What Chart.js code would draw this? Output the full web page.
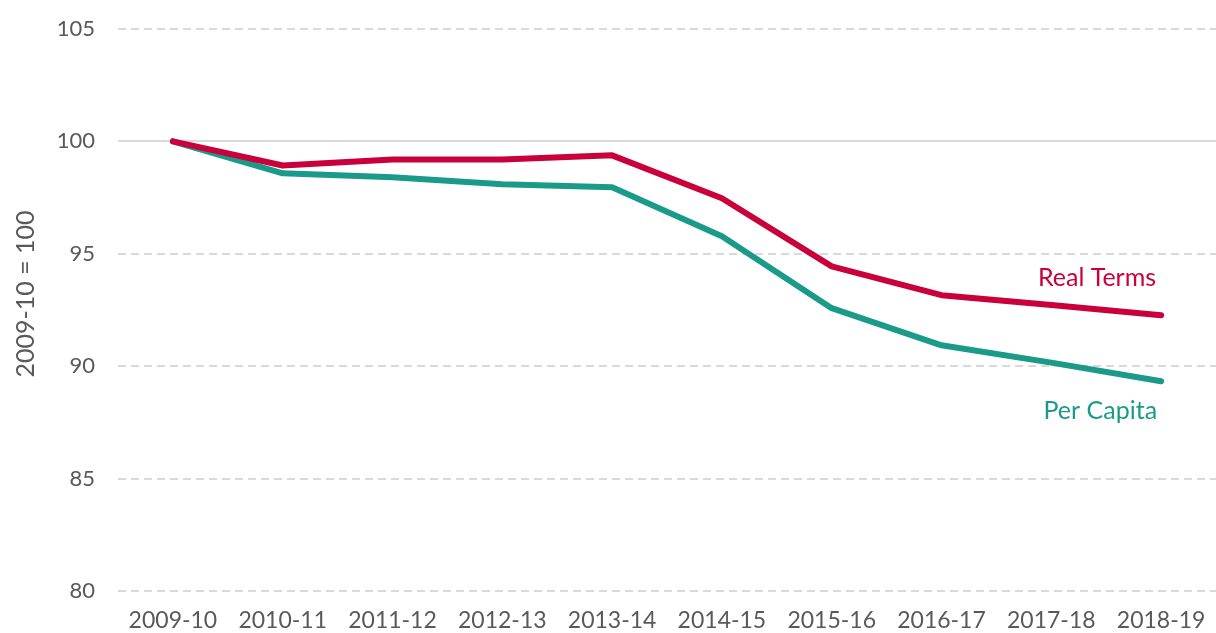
<!DOCTYPE html>
<html>
<head>
<meta charset="utf-8">
<script src="https://cdn.jsdelivr.net/npm/chart.js@4"></script>
<style>
  html, body { margin: 0; padding: 0; background: #fff; }
  #wrap { width: 1216px; height: 633px; }
</style>
</head>
<body>
<div id="wrap"><canvas id="chart"></canvas></div>
<script>
const years = ['2009-10', '2010-11', '2011-12', '2012-13', '2013-14', '2014-15', '2015-16', '2016-17', '2017-18', '2018-19'];
const realTerms = [100, 98.93, 99.2, 99.2, 99.38, 97.47, 94.44, 93.16, 92.72, 92.27];
const perCapita = [100, 98.58, 98.4, 98.09, 97.96, 95.78, 92.58, 90.93, 90.16, 89.33];
const yTicks = [80, 85, 90, 95, 100, 105];
const yTitle = '2009-10 = 100';

const FONT = 'Lato, "Noto Sans", sans-serif';
const GREY = '#595959';
const RED = '#C9003B';
const TEAL = '#1A9A88';

// y title + labels at the right end of each line
const extraText = {
  id: 'extraText',
  afterDatasetsDraw(chart) {
    const c = chart.ctx;
    c.save();
    c.textBaseline = 'middle';
    c.textAlign = 'center';
    c.font = '25px ' + FONT;
    c.fillStyle = GREY;
    c.translate(26, 294);
    c.rotate(-Math.PI / 2);
    c.fillText(yTitle, 0, 0);
    c.restore();

    c.save();
    c.font = '25px ' + FONT;
    c.textAlign = 'right';
    c.textBaseline = 'middle';
    const m0 = chart.getDatasetMeta(0).data;
    const m1 = chart.getDatasetMeta(1).data;
    const p0 = m0[m0.length - 1];
    const p1 = m1[m1.length - 1];
    c.fillStyle = RED;
    c.fillText('Real Terms', p0.x - 5, p0.y - 37);
    c.fillStyle = TEAL;
    c.fillText('Per Capita', p1.x - 4, p1.y + 30);
    c.restore();
  }
};

const ctx = document.getElementById('chart');
new Chart(ctx, {
  type: 'line',
  data: {
    labels: years,
    datasets: [{
      label: 'Real Terms',
      data: realTerms,
      borderColor: RED,
      borderWidth: 6,
      pointRadius: 0,
      tension: 0,
      borderCapStyle: 'round',
      borderJoinStyle: 'round'
    }, {
      label: 'Per Capita',
      data: perCapita,
      borderColor: TEAL,
      borderWidth: 6,
      pointRadius: 0,
      tension: 0,
      borderCapStyle: 'round',
      borderJoinStyle: 'round'
    }]
  },
  options: {
    responsive: true,
    maintainAspectRatio: false,
    animation: false,
    layout: { autoPadding: false, padding: { top: 29, right: -4, bottom: 0, left: 0 } },
    scales: {
      x: {
        offset: true,
        grid: { display: false, offset: true, drawTicks: false },
        border: { display: false },
        ticks: { color: GREY, font: { family: FONT, size: 23 }, maxRotation: 0, autoSkip: false, padding: 16 },
        afterFit: (s) => { s.height = 42; s.paddingLeft = 0; s.paddingRight = 0; }
      },
      y: {
        min: 80,
        max: 105,
        afterBuildTicks: (axis) => { axis.ticks = yTicks.map(v => ({ value: v })); },
        grid: {
          color: '#d9d9d9',
          lineWidth: 2,
          drawTicks: false
        },
        border: {
          display: false,
          dash: (c) => (c.tick && c.tick.value === 100) ? [] : [8, 5]
        },
        ticks: { color: GREY, font: { family: FONT, size: 22 }, padding: 23 },
        afterFit: (s) => { s.width = 118; s.paddingTop = 0; s.paddingBottom = 0; }
      }
    },
    plugins: {
      legend: { display: false },
      tooltip: { enabled: false }
    }
  },
  plugins: [extraText]
});
</script>
</body>
</html>
